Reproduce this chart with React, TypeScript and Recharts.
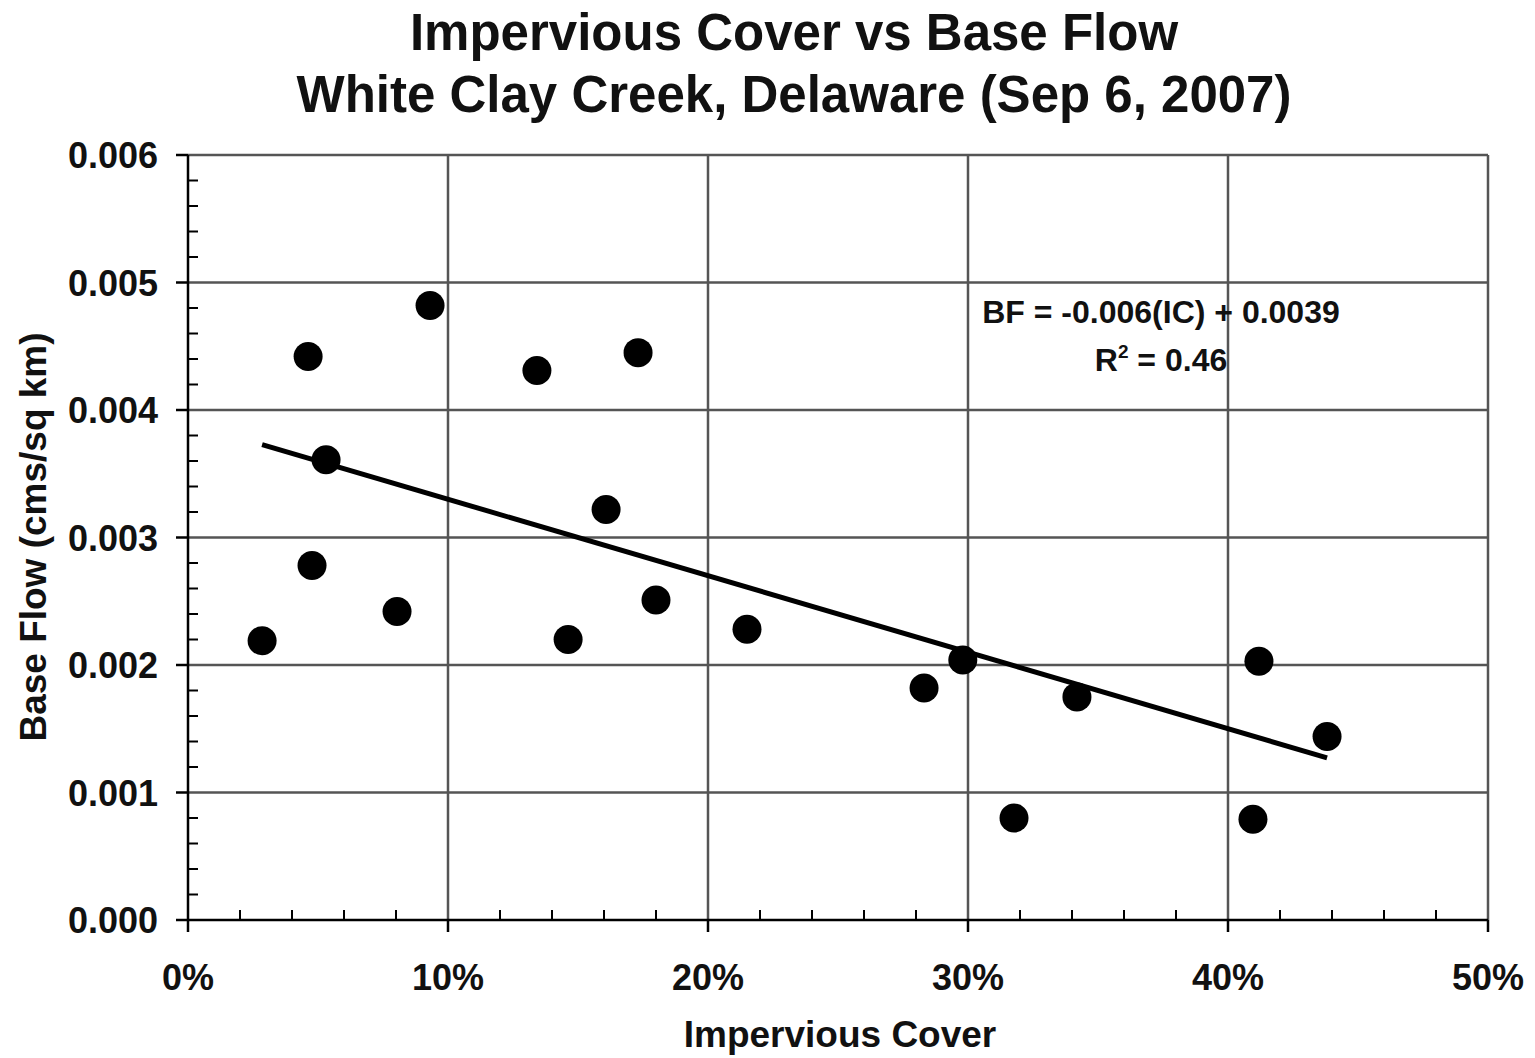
import { ScatterChart, Scatter, XAxis, YAxis, ReferenceLine } from 'recharts';

// Sampled sub-watersheds: impervious cover (fraction) and base flow (cms/sq km)
const imperviousCover = [
  0.0285, 0.0462, 0.0477, 0.0531, 0.0804, 0.0931, 0.1342, 0.1462, 0.1608, 0.1731,
  0.18, 0.215, 0.2831, 0.298, 0.3177, 0.3419, 0.4119, 0.4096, 0.4381,
];
const baseFlow = [
  0.00219, 0.00442, 0.00278, 0.00361, 0.00242, 0.00482, 0.00431, 0.0022, 0.00322, 0.00445,
  0.00251, 0.00228, 0.00182, 0.00204, 0.0008, 0.00175, 0.00203, 0.00079, 0.00144,
];

// Linear fit: BF = slope * IC + intercept
const slope = -0.006;
const intercept = 0.0039;
const rSquared = 0.46;

const xMajorTicks = [0, 0.1, 0.2, 0.3, 0.4, 0.5];
const xMinorTicks = [
  0.02, 0.04, 0.06, 0.08, 0.12, 0.14, 0.16, 0.18, 0.22, 0.24, 0.26, 0.28,
  0.32, 0.34, 0.36, 0.38, 0.42, 0.44, 0.46, 0.48,
];
const yMajorTicks = [0, 0.001, 0.002, 0.003, 0.004, 0.005, 0.006];
const yMinorTicks = [
  0.0002, 0.0004, 0.0006, 0.0008, 0.0012, 0.0014, 0.0016, 0.0018,
  0.0022, 0.0024, 0.0026, 0.0028, 0.0032, 0.0034, 0.0036, 0.0038,
  0.0042, 0.0044, 0.0046, 0.0048, 0.0052, 0.0054, 0.0056, 0.0058,
];

const W = 1535;
const H = 1058;
const FONT = '"Liberation Sans", Arial, sans-serif';
const INK = '#111';
const GRID = '#555';

const points = imperviousCover.map((x, i) => ({ x, y: baseFlow[i] }));
const xMin = Math.min(...imperviousCover);
const xMax = Math.max(...imperviousCover);
const fitLine = [xMin, xMax].map((x) => ({ x, y: slope * x + intercept }));

const isMajorX = (v: number) => xMajorTicks.some((t) => Math.abs(t - v) < 1e-9);
const isMajorY = (v: number) => yMajorTicks.some((t) => Math.abs(t - v) < 1e-9);

const XTick = (props: any) => {
  const { x, y, payload } = props;
  const v = payload.value;
  if (!isMajorX(v)) {
    return <line x1={x} y1={y} x2={x} y2={y - 10} stroke="#000" strokeWidth={2} />;
  }
  return (
    <g>
      <line x1={x} y1={y} x2={x} y2={y + 12} stroke="#000" strokeWidth={2.5} />
      <text x={x} y={y + 70} textAnchor="middle" fontFamily={FONT} fontWeight="bold" fontSize={36} fill={INK}>
        {`${Math.round(v * 100)}%`}
      </text>
    </g>
  );
};

const YTick = (props: any) => {
  const { x, y, payload } = props;
  const v = payload.value;
  if (!isMajorY(v)) {
    return <line x1={x} y1={y} x2={x + 10} y2={y} stroke="#000" strokeWidth={2} />;
  }
  return (
    <g>
      <line x1={x} y1={y} x2={x - 12} y2={y} stroke="#000" strokeWidth={2.5} />
      <text x={x - 30} y={y + 13} textAnchor="end" fontFamily={FONT} fontWeight="bold" fontSize={36} fill={INK}>
        {v.toFixed(3)}
      </text>
    </g>
  );
};

const Dot = (props: any) => <circle cx={props.cx} cy={props.cy} r={14.5} fill="#000" />;
const NoDot = () => <g />;

export default function App() {
  return (
    <div style={{ position: 'absolute', left: 0, top: 0, width: W, height: H, background: '#fff' }}>
      <ScatterChart width={W} height={H} margin={{ top: 155, right: 47, bottom: 38, left: 0 }}>
        <XAxis
          type="number"
          dataKey="x"
          domain={[0, 0.5]}
          ticks={[...xMajorTicks, ...xMinorTicks].sort((a, b) => a - b)}
          interval={0}
          allowDataOverflow
          height={100}
          tickSize={0}
          tickMargin={0}
          tickLine={false}
          axisLine={{ stroke: '#000', strokeWidth: 2.5 }}
          tick={<XTick />}
        />
        <YAxis
          type="number"
          dataKey="y"
          domain={[0, 0.006]}
          ticks={[...yMajorTicks, ...yMinorTicks].sort((a, b) => a - b)}
          interval={0}
          allowDataOverflow
          width={188}
          tickSize={0}
          tickMargin={0}
          tickLine={false}
          axisLine={{ stroke: '#000', strokeWidth: 2.5 }}
          tick={<YTick />}
        />
        {yMajorTicks.slice(1).map((v) => (
          <ReferenceLine key={`h${v}`} y={v} stroke={GRID} strokeWidth={2.5} />
        ))}
        {xMajorTicks.slice(1).map((v) => (
          <ReferenceLine key={`v${v}`} x={v} stroke={GRID} strokeWidth={2.5} />
        ))}
        <Scatter
          data={fitLine}
          line={{ stroke: '#000', strokeWidth: 5 }}
          shape={NoDot}
          isAnimationActive={false}
        />
        <Scatter data={points} shape={Dot} isAnimationActive={false} />
      </ScatterChart>

      <svg
        width={W}
        height={H}
        style={{ position: 'absolute', left: 0, top: 0, pointerEvents: 'none' }}
        fontFamily={FONT}
        fontWeight="bold"
        fill={INK}
      >
        <text x={794} y={50} textAnchor="middle" fontSize={51}>
          Impervious Cover vs Base Flow
        </text>
        <text x={794} y={112} textAnchor="middle" fontSize={51}>
          White Clay Creek, Delaware (Sep 6, 2007)
        </text>
        <text x={1161} y={323} textAnchor="middle" fontSize={32}>
          {`BF = ${slope.toFixed(3)}(IC) + ${intercept.toFixed(4)}`}
        </text>
        <text x={1161} y={371} textAnchor="middle" fontSize={32}>
          R
          <tspan fontSize={19} dy={-13}>2</tspan>
          <tspan dy={13}>{` = ${rSquared.toFixed(2)}`}</tspan>
        </text>
        <text x={840} y={1047} textAnchor="middle" fontSize={37}>
          Impervious Cover
        </text>
        <text x={46} y={537} textAnchor="middle" fontSize={37} transform="rotate(-90, 46, 537)">
          Base Flow (cms/sq km)
        </text>
      </svg>
    </div>
  );
}
